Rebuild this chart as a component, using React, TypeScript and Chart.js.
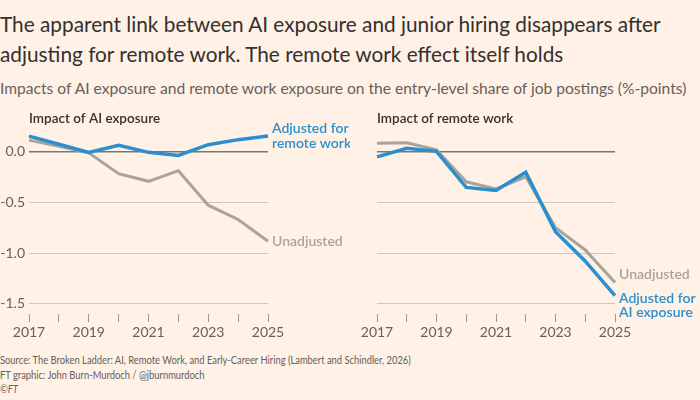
import { useEffect, useRef } from 'react';
import { Chart, registerables } from 'chart.js';

Chart.register(...registerables);

const FONT = 'Lato, "Noto Sans", sans-serif';
const BLUE = '#2b8fcf';
const GREY = '#a9a39e';
const INK = '#33302e';
const MUTED = '#66605c';

const years = ['2017', '2018', '2019', '2020', '2021', '2022', '2023', '2024', '2025'];
const yTicks = [0, -0.5, -1, -1.5];

// Impact of AI exposure
const aiAdjusted = [0.15, 0.07, -0.01, 0.06, -0.01, -0.04, 0.065, 0.115, 0.15];
const aiUnadjusted = [0.11, 0.05, -0.015, -0.22, -0.295, -0.19, -0.53, -0.67, -0.885];

// Impact of remote work
const remoteAdjusted = [-0.055, 0.03, 0.0, -0.355, -0.385, -0.205, -0.79, -1.08, -1.42];
const remoteUnadjusted = [0.08, 0.085, 0.015, -0.3, -0.37, -0.25, -0.75, -0.97, -1.29];

interface EndLabel {
  lines: string[];
  dy: number;
}

interface PanelProps {
  title: string;
  adjusted: number[];
  unadjusted: number[];
  adjustedLabel: EndLabel;
  unadjustedLabel: EndLabel;
  showYLabels: boolean;
  axisWidth: number;
  padRight: number;
  left: number;
}

function Panel({ title, adjusted, unadjusted, adjustedLabel, unadjustedLabel, showYLabels, axisWidth, padRight, left }: PanelProps) {
  const canvasRef = useRef<HTMLCanvasElement>(null);

  useEffect(() => {
    if (!canvasRef.current) return;
    const labelsByDataset = [adjustedLabel, unadjustedLabel];

    const annotations = {
      id: 'annotations',
      afterDatasetsDraw(chart: Chart) {
        const { ctx, chartArea } = chart;
        ctx.save();
        ctx.font = `600 13.5px ${FONT}`;
        ctx.fillStyle = INK;
        ctx.textAlign = 'left';
        ctx.textBaseline = 'middle';
        ctx.fillText(title, chartArea.left, 19);

        ctx.font = `600 14px ${FONT}`;
        chart.data.datasets.forEach((ds, i) => {
          const meta = chart.getDatasetMeta(i);
          const last = meta.data[meta.data.length - 1];
          const lbl = labelsByDataset[i];
          const lh = 14.5;
          const y0 = last.y + lbl.dy - ((lbl.lines.length - 1) * lh) / 2;
          ctx.fillStyle = ds.borderColor as string;
          lbl.lines.forEach((line, j) => ctx.fillText(line, last.x + 4, y0 + j * lh));
        });
        ctx.restore();
      },
    };

    const chart = new Chart(canvasRef.current, {
      type: 'line',
      data: {
        labels: years,
        datasets: [
          { label: 'Adjusted', data: adjusted, borderColor: BLUE, borderWidth: 3.5 },
          { label: 'Unadjusted', data: unadjusted, borderColor: GREY, borderWidth: 3 },
        ],
      },
      options: {
        animation: false,
        responsive: true,
        maintainAspectRatio: false,
        layout: { padding: { top: 31, right: padRight, left: 0, bottom: 0 } },
        elements: { point: { radius: 0 }, line: { tension: 0 } },
        plugins: { legend: { display: false }, tooltip: { enabled: false } },
        scales: {
          x: {
            afterFit: (scale: any) => { scale.height = 26; },
            border: { display: false },
            grid: { drawOnChartArea: false, drawTicks: true, tickLength: 8, color: '#9e958f', lineWidth: 1 },
            ticks: {
              color: MUTED,
              font: { family: FONT, size: 14 },
              padding: 2,
              autoSkip: false,
              maxRotation: 0,
              callback: (_v: any, i: number) => (i % 2 === 0 ? years[i] : ''),
            },
          },
          y: {
            min: -1.6,
            max: 0.2,
            afterBuildTicks: (scale: any) => { scale.ticks = yTicks.map((v) => ({ value: v })); },
            afterFit: (scale: any) => { scale.width = axisWidth; },
            border: { display: false },
            grid: {
              drawTicks: false,
              color: (c: any) => (c.tick && c.tick.value === 0 ? '#7d7570' : '#d2c6bb'),
              lineWidth: (c: any) => (c.tick && c.tick.value === 0 ? 1.5 : 1),
            },
            ticks: {
              display: showYLabels,
              color: MUTED,
              font: { family: FONT, size: 14 },
              padding: 4,
              callback: (v: any) => Number(v).toFixed(1),
            },
          },
        },
      },
      plugins: [annotations],
    });

    return () => chart.destroy();
  }, []);

  return (
    <div style={{ position: 'absolute', left, top: 100, width: 350, height: 240 }}>
      <canvas ref={canvasRef} />
    </div>
  );
}

export default function App() {
  return (
    <div
      style={{
        position: 'fixed',
        left: 0,
        top: 0,
        width: 700,
        height: 400,
        background: '#fff1e5',
        overflow: 'hidden',
        fontFamily: FONT,
      }}
    >
      <div style={{ position: 'absolute', left: 0, top: 9, fontSize: 20.8, lineHeight: '30px', color: INK, whiteSpace: 'nowrap' }}>
        <div>The apparent link between AI exposure and junior hiring disappears after</div>
        <div>adjusting for remote work. The remote work effect itself holds</div>
      </div>
      <div style={{ position: 'absolute', left: 0, top: 78, fontSize: 15.6, lineHeight: '20px', color: MUTED, whiteSpace: 'nowrap' }}>
        Impacts of AI exposure and remote work exposure on the entry-level share of job postings (%-points)
      </div>
      <Panel
        title="Impact of AI exposure"
        adjusted={aiAdjusted}
        unadjusted={aiUnadjusted}
        adjustedLabel={{ lines: ['Adjusted for', 'remote work'], dy: 0 }}
        unadjustedLabel={{ lines: ['Unadjusted'], dy: 0 }}
        showYLabels={true}
        axisWidth={29}
        padRight={82}
        left={0}
      />
      <Panel
        title="Impact of remote work"
        adjusted={remoteAdjusted}
        unadjusted={remoteUnadjusted}
        adjustedLabel={{ lines: ['Adjusted for', 'AI exposure'], dy: 10 }}
        unadjustedLabel={{ lines: ['Unadjusted'], dy: -8 }}
        showYLabels={false}
        axisWidth={27}
        padRight={85}
        left={350}
      />
      <div
        style={{
          position: 'absolute',
          left: 0,
          top: 353,
          fontSize: 12,
          lineHeight: '14.5px',
          color: MUTED,
          whiteSpace: 'nowrap',
          transform: 'scaleX(0.78)',
          transformOrigin: 'left top',
        }}
      >
        <div>Source: The Broken Ladder: AI, Remote Work, and Early-Career Hiring (Lambert and Schindler, 2026)</div>
        <div>FT graphic: John Burn-Murdoch / @jburnmurdoch</div>
        <div>©<i>FT</i></div>
      </div>
    </div>
  );
}
